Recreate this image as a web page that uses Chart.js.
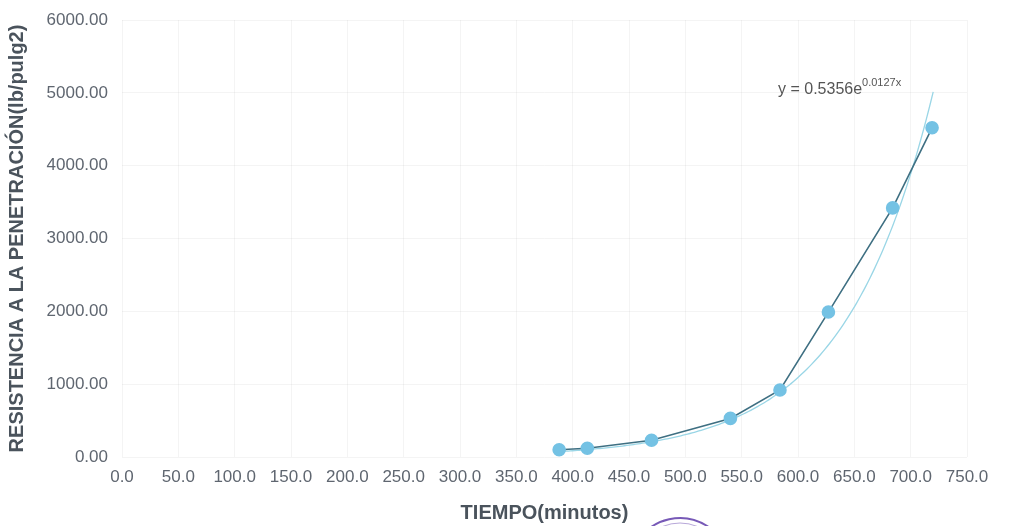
<!DOCTYPE html>
<html>
<head>
<meta charset="utf-8">
<script src="https://cdn.jsdelivr.net/npm/chart.js@4"></script>
<style>
  html, body { margin: 0; padding: 0; background: #fff; }
  #wrap { width: 1011px; height: 526px; position: relative; }
</style>
</head>
<body>
<div id="wrap"><canvas id="chart" width="1011" height="526"></canvas></div>
<script>
// ---------- DATA ----------
const tiempo = [388, 413, 470, 540, 584, 627, 684, 719];
const resistencia = [100, 120, 230, 530, 920, 1990, 3420, 4520];
const xTicks = [0, 50, 100, 150, 200, 250, 300, 350, 400, 450, 500, 550, 600, 650, 700, 750];
const yTicks = [0, 1000, 2000, 3000, 4000, 5000, 6000];

// exponential fit shown on the chart: y = a * e^(b x)
const fitA = 0.5356;
const fitB = 0.0127;
const fitRange = [388, 722];

function fitPoints() {
    const pts = [];
    for (let x = fitRange[0]; x <= fitRange[1]; x += 4) {
        pts.push({ x: x, y: fitA * Math.exp(fitB * x) });
    }
    return pts;
}

const points = tiempo.map((t, i) => ({ x: t, y: resistencia[i] }));

// ---------- PLUGINS ----------
const equationLabel = {
    id: 'equationLabel',
    afterDatasetsDraw(chart) {
        const ctx = chart.ctx;
        ctx.save();
        ctx.fillStyle = '#555';
        ctx.textBaseline = 'alphabetic';
        ctx.font = '16px "Liberation Sans", Arial, sans-serif';
        const base = 'y = ' + fitA + 'e';
        const x0 = 778, y0 = 94;
        ctx.fillText(base, x0, y0);
        const w = ctx.measureText(base).width;
        ctx.font = '11px "Liberation Sans", Arial, sans-serif';
        ctx.fillText(fitB + 'x', x0 + w, y0 - 8);
        ctx.restore();
    }
};

const stamp = {
    id: 'stamp',
    afterDraw(chart) {
        const ctx = chart.ctx;
        ctx.save();
        ctx.strokeStyle = 'rgba(95, 60, 170, 0.85)';
        ctx.lineWidth = 2;
        ctx.beginPath();
        ctx.arc(680, 568, 50, Math.PI * 1.18, Math.PI * 1.82);
        ctx.stroke();
        ctx.lineWidth = 1;
        ctx.strokeStyle = 'rgba(95, 60, 170, 0.45)';
        ctx.beginPath();
        ctx.arc(680, 568, 45, Math.PI * 1.25, Math.PI * 1.75);
        ctx.stroke();
        ctx.restore();
    }
};

// ---------- CHART ----------
const tickFont = { family: '"Liberation Sans", Arial, sans-serif', size: 17 };
const titleFont = { family: '"Liberation Sans", Arial, sans-serif', size: 20, weight: 'bold' };

new Chart(document.getElementById('chart').getContext('2d'), {
    type: 'scatter',
    data: {
        datasets: [
            {
                label: 'Resistencia',
                data: points,
                showLine: true,
                borderColor: '#3e6f82',
                borderWidth: 1.6,
                pointBackgroundColor: '#74c2e4',
                pointBorderColor: '#74c2e4',
                pointRadius: 6,
                order: 1
            },
            {
                label: 'Exponencial',
                data: fitPoints(),
                showLine: true,
                borderColor: '#9ad6e6',
                borderWidth: 1.3,
                pointRadius: 0,
                tension: 0.3,
                order: 2
            }
        ]
    },
    options: {
        responsive: false,
        animation: false,
        layout: { padding: { top: 20, right: 44, left: 0, bottom: 0 } },
        plugins: {
            legend: { display: false },
            tooltip: { enabled: false }
        },
        scales: {
            x: {
                type: 'linear',
                min: 0,
                max: 750,
                afterBuildTicks: axis => { axis.ticks = xTicks.map(v => ({ value: v })); },
                afterFit: axis => {
                    axis.height = 69;
                    axis.paddingLeft = 0;
                    axis.paddingRight = 0;
                },
                ticks: {
                    color: '#5f6670',
                    font: tickFont,
                    padding: 10,
                    maxRotation: 0,
                    callback: v => v.toFixed(1)
                },
                grid: { color: 'rgba(0,0,0,0.045)', drawTicks: false },
                border: { display: false },
                title: {
                    display: true,
                    text: 'TIEMPO(minutos)',
                    color: '#4a535c',
                    font: titleFont,
                    padding: { top: 0, bottom: 1 }
                }
            },
            y: {
                min: 0,
                max: 6000,
                afterBuildTicks: axis => { axis.ticks = yTicks.map(v => ({ value: v })); },
                afterFit: axis => {
                    axis.width = 122;
                    axis.paddingTop = 0;
                    axis.paddingBottom = 0;
                },
                ticks: {
                    color: '#5f6670',
                    font: tickFont,
                    padding: 14,
                    callback: v => v.toFixed(2)
                },
                grid: { color: 'rgba(0,0,0,0.045)', drawTicks: false },
                border: { display: false },
                title: {
                    display: true,
                    text: 'RESISTENCIA A LA PENETRACIÓN(lb/pulg2)',
                    color: '#4a535c',
                    font: titleFont,
                    padding: { top: 5, bottom: 0 }
                }
            }
        }
    },
    plugins: [equationLabel, stamp]
});
</script>
</body>
</html>
